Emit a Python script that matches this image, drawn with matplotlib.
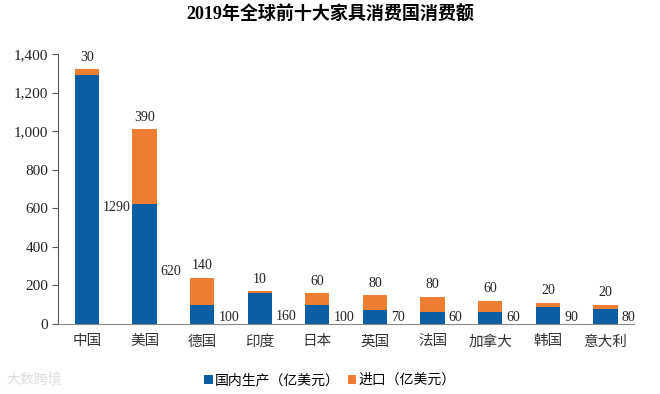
import matplotlib
matplotlib.use("Agg")
import matplotlib.pyplot as plt
import numpy as np
from matplotlib.ticker import FuncFormatter

categories = ["中国", "美国", "德国", "印度", "日本", "英国", "法国", "加拿大", "韩国", "意大利"]
domestic = [1290, 620, 100, 160, 100, 70, 60, 60, 90, 80]
imports = [30, 390, 140, 10, 60, 80, 80, 60, 20, 20]
series_names = ["国内生产（亿美元）", "进口（亿美元）"]
title = "2019年全球前十大家具消费国消费额"

FONT = ["Liberation Serif", "Noto Sans CJK SC", "DejaVu Sans"]
plt.rcParams["font.family"] = FONT

blue = "#0b5da4"
orange = "#ed7d31"

fig = plt.figure(figsize=(6.6, 3.94), dpi=100)
ax = fig.add_axes([0.088, 0.1777, 0.873, 0.6853])

x = np.arange(len(categories))
w = 0.42
b1 = ax.bar(x, domestic, w, color=blue, label=series_names[0])
b2 = ax.bar(x, imports, w, bottom=domestic, color=orange, label=series_names[1])

for xi, d, im in zip(x, domestic, imports):
    ax.annotate(str(d), (xi + w / 2, max(d / 2 - 40, 35)), xytext=(3, 0), textcoords="offset points",
                ha="left", va="center", fontsize=10, color="#222222")
    ax.annotate(str(im), (xi, d + im), xytext=(0, 4), textcoords="offset points",
                ha="center", va="bottom", fontsize=10, color="#222222")

ax.set_xlim(-0.5, len(categories) - 0.5)
ax.set_ylim(0, 1400)
ax.set_yticks(np.arange(0, 1401, 200))
ax.yaxis.set_major_formatter(FuncFormatter(lambda v, p: f"{int(v):,}"))
ax.set_xticks(x)
ax.set_xticklabels(categories)
ax.tick_params(axis="y", length=4, color="#555555", labelsize=11, labelcolor="#222222", pad=3)
ax.tick_params(axis="x", length=0, labelsize=10.5, labelcolor="#333333", pad=8)
for s in ["top", "right"]:
    ax.spines[s].set_visible(False)
ax.spines["left"].set_color("#555555")
ax.spines["bottom"].set_color("#888888")

fig.text(0.5, 0.962, title, ha="center", va="center", fontsize=13, fontweight="bold",
         family=["Liberation Serif", "Noto Sans CJK SC"])

leg = fig.legend(handles=[b1, b2], loc="center", bbox_to_anchor=(0.5, 0.035), ncol=2,
                 frameon=False, fontsize=10, handlelength=0.6, handleheight=0.6,
                 handletextpad=0.15, columnspacing=0.6)

fig.text(0.01, 0.035, "大数跨境", ha="left", va="center", fontsize=10, color="#dddddd")

fig.savefig("out.png", dpi=100)
